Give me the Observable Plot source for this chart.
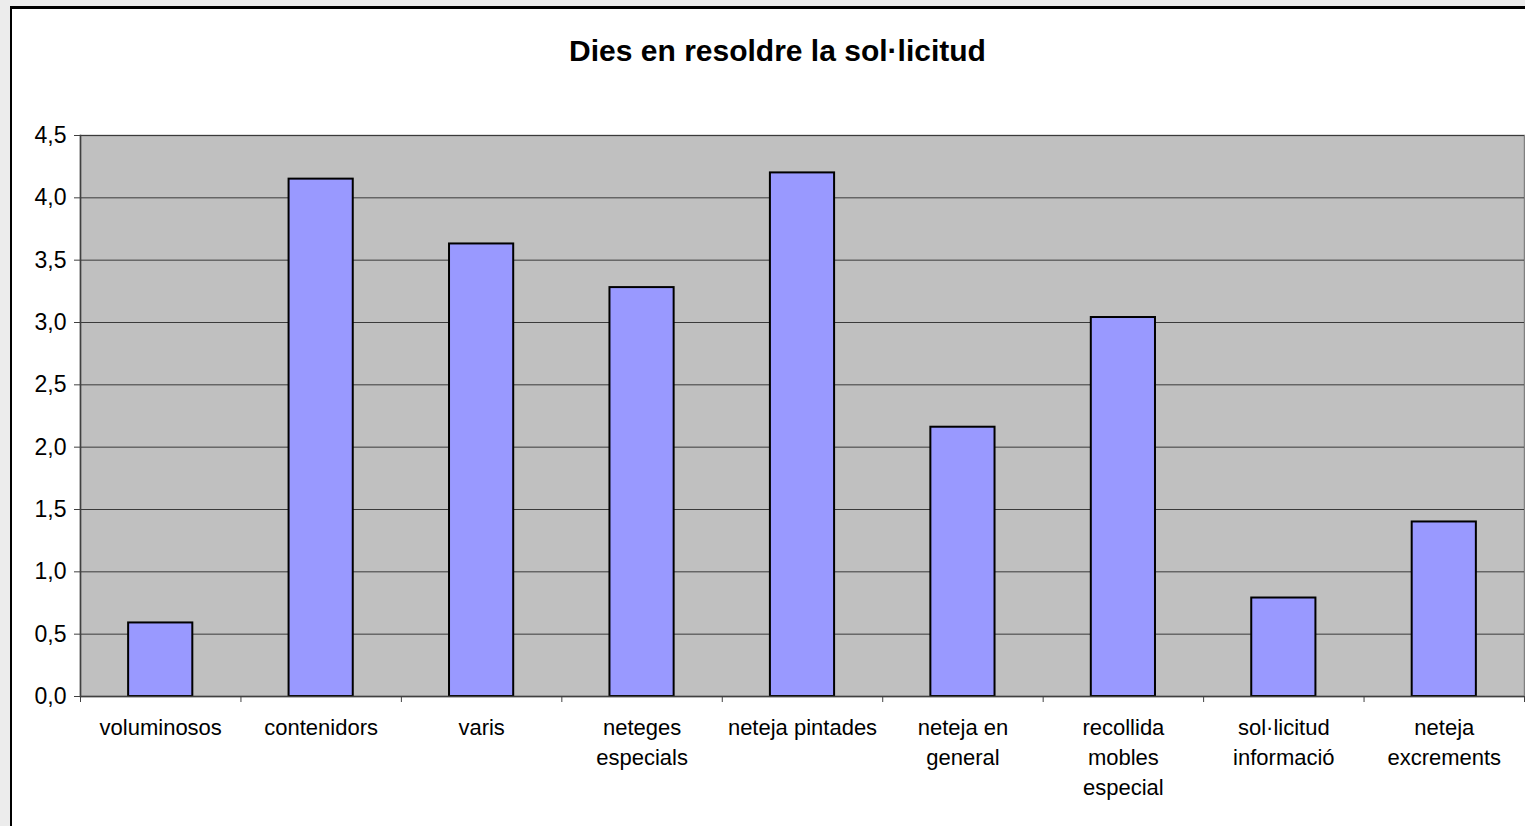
<!DOCTYPE html>
<html>
<head>
<meta charset="utf-8">
<script src="https://cdn.jsdelivr.net/npm/d3@7"></script>
<script src="https://cdn.jsdelivr.net/npm/@observablehq/plot@0.6"></script>
<style>
  html, body { margin: 0; padding: 0; width: 1525px; height: 826px; overflow: hidden; background: #ececec; }
  #frame { position: absolute; left: 10px; top: 6px; width: 1600px; height: 900px; background: #fff;
           border-left: 2px solid #000; border-top: 3px solid #000; }
  #title { position: absolute; left: 0; width: 1555px; top: 34px; text-align: center;
           font-family: "Liberation Sans", Arial, sans-serif; font-weight: bold; font-size: 30px; color: #000; }
  #chart { position: absolute; left: 0; top: 0; }
</style>
</head>
<body>
<div id="frame"></div>
<div id="chart"></div>
<div id="title">Dies en resoldre la sol·licitud</div>
<script>
const categories = ["voluminosos", "contenidors", "varis", "neteges especials", "neteja pintades",
                    "neteja en general", "recollida mobles especial", "sol·licitud informació", "neteja excrements"];
const tickLabels = ["voluminosos", "contenidors", "varis", "neteges\nespecials", "neteja pintades",
                    "neteja en\ngeneral", "recollida\nmobles\nespecial", "sol·licitud\ninformació", "neteja\nexcrements"];
const values = [0.59, 4.15, 3.63, 3.28, 4.20, 2.16, 3.04, 0.79, 1.40];
const yTicks = [0, 0.5, 1, 1.5, 2, 2.5, 3, 3.5, 4, 4.5];

const W = 1525, ML = 80, MR = 1;
const step = (W - ML - MR) / categories.length;

const data = categories.map((c, i) => ({cat: c, value: values[i]}));

const plot = Plot.plot({
  width: W,
  height: 826,
  marginTop: 135,
  marginBottom: 130,
  marginLeft: ML,
  marginRight: MR,
  style: {background: "transparent", fontFamily: "'Liberation Sans', Arial, sans-serif", fontSize: "22px", color: "#000"},
  x: {domain: categories, paddingInner: 0.6, paddingOuter: 0.3, round: false, axis: null, label: null},
  y: {domain: [0, 4.5], axis: null, label: null},
  marks: [
    Plot.frame({fill: "#c0c0c0", stroke: "#808080", strokeWidth: 1.5}),
    Plot.gridY(yTicks, {stroke: "#3a3a3a", strokeOpacity: 1, strokeWidth: 1}),
    Plot.barY(data, {x: "cat", y: "value", fill: "#9999ff", stroke: "#000", strokeWidth: 2}),
    Plot.ruleY([0], {stroke: "#404040", strokeWidth: 1.5}),
    Plot.frame({anchor: "left", stroke: "#404040", strokeWidth: 1.5}),
    Plot.axisY(yTicks, {tickFormat: d => d.toFixed(1).replace(".", ","), tickSize: 6, tickPadding: 8,
                        stroke: "#404040", fontSize: 23, fill: "#000", label: null}),
    Plot.ruleX(categories, {x: d => d, y1: 0, y2: 0, insetBottom: -6, dx: -step / 2, stroke: "#404040"}),
    Plot.ruleX(categories.slice(-1), {x: d => d, y1: 0, y2: 0, insetBottom: -6, dx: step / 2, stroke: "#404040"}),
    Plot.axisX({tickFormat: d => tickLabels[categories.indexOf(d)], tickSize: 0, tickPadding: 17,
                lineHeight: 1.36, fontSize: 22, fill: "#000", label: null})
  ]
});
document.getElementById("chart").appendChild(plot);
</script>
</body>
</html>
